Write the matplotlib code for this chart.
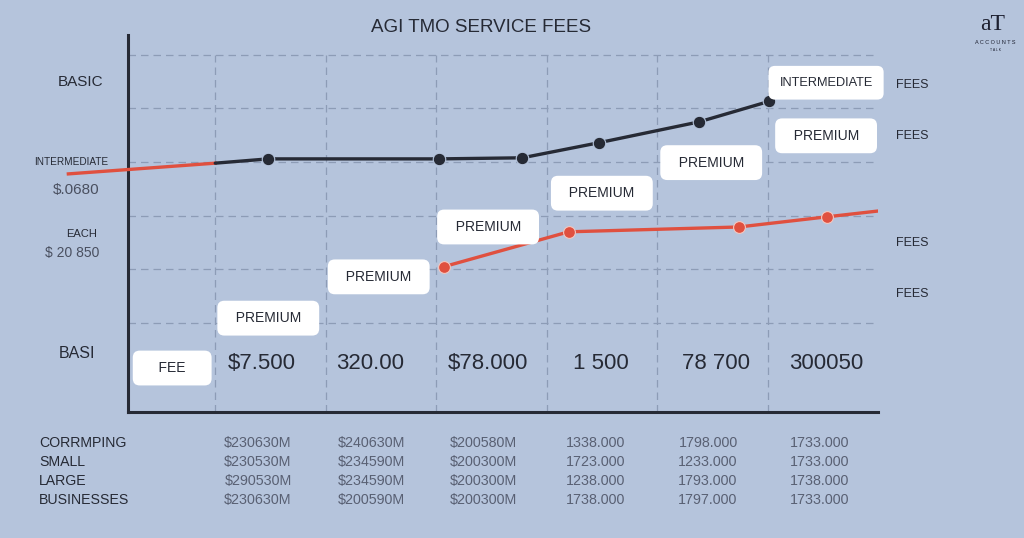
import numpy as np
import matplotlib.pyplot as plt

plt.rcParams['font.family'] = ['Liberation Sans', 'DejaVu Sans']

# data
dark_x = [1.0, 1.48, 3.03, 3.78, 4.47, 5.38, 6.01]
dark_y = [3.98, 4.06, 4.06, 4.08, 4.36, 4.75, 5.13]
dark_marked = [False, True, True, True, True, True, True]

red_tail_x = [-0.33, 1.0]
red_tail_y = [3.78, 3.98]

red_x = [3.07, 4.20, 5.74, 6.54, 7.01]
red_y = [2.05, 2.70, 2.79, 2.98, 3.09]
red_marked = [True, True, True, True, False]

box_labels = ['INTERMEDIATE', 'PREMIUM', 'PREMIUM', 'PREMIUM', 'PREMIUM', 'PREMIUM', 'PREMIUM', 'FEE']
box_x = [6.53, 6.53, 5.49, 4.50, 3.47, 2.48, 1.48, 0.61]
box_y = [5.48, 4.49, 3.99, 3.42, 2.79, 1.86, 1.09, 0.16]

big_labels = ['$7.500', '320.00', '$78.000', '1 500', '78 700', '300050']
big_x = [1.42, 2.40, 3.47, 4.49, 5.53, 6.53]

left_labels = ['BASIC', 'INTERMEDIATE', '$.0680', 'EACH', '$ 20 850', 'BASI']
right_labels = ['FEES', 'FEES', 'FEES', 'FEES']

row_names = ['CORRMPING', 'SMALL', 'LARGE', 'BUSINESSES']
table_cols = [
    ['$230630M', '$230530M', '$290530M', '$230630M'],
    ['$240630M', '$234590M', '$234590M', '$200590M'],
    ['$200580M', '$200300M', '$200300M', '$200300M'],
    ['1338.000', '1723.000', '1238.000', '1738.000'],
    ['1798.000', '1233.000', '1793.000', '1797.000'],
    ['1733.000', '1733.000', '1738.000', '1733.000'],
]

BG = '#b5c4dc'
INK = '#262a35'
RED = '#e0503f'
GRID = '#8d9cb6'

W, H = 1024, 538
fig = plt.figure(figsize=(W / 100, H / 100), dpi=100, facecolor=BG)


def fx(px):
    return px / W


def fy(py):
    return 1 - py / H


ax = fig.add_axes([fx(128), fy(412), 750 / W, 377 / H])
ax.set_facecolor(BG)
ax.set_xlim(0.21, 7.0)
ax.set_ylim(-0.66, 6.37)
ax.set_xticks([1, 2, 3, 4, 5, 6])
ax.set_yticks([1, 2, 3, 4, 5, 6])
ax.tick_params(length=0, labelbottom=False, labelleft=False)
ax.grid(True, axis='y', color=GRID, linestyle=(0, (6, 4)), linewidth=0.9)
ax.vlines(ax.get_xticks(), -0.66, 6, color=GRID, linestyle=(0, (6, 4)), linewidth=0.9, zorder=0.5)
for s in ['top', 'right']:
    ax.spines[s].set_visible(False)
for s in ['left', 'bottom']:
    ax.spines[s].set_color(INK)
    ax.spines[s].set_linewidth(2.2)

# lines
ax.plot(red_tail_x, red_tail_y, color=RED, lw=2.4, clip_on=False, zorder=3)
ax.plot(dark_x, dark_y, color=INK, lw=2.4, zorder=3, solid_capstyle='round')
ax.plot([x for x, m in zip(dark_x, dark_marked) if m],
        [y for y, m in zip(dark_y, dark_marked) if m],
        'o', color=INK, ms=9, mec=BG, mew=0.8, zorder=4)
ax.plot(red_x, red_y, color=RED, lw=2.4, zorder=3, solid_capstyle='round')
ax.plot([x for x, m in zip(red_x, red_marked) if m],
        [y for y, m in zip(red_y, red_marked) if m],
        'o', color=RED, ms=8.5, mec='#f3c7c0', mew=0.8, zorder=4)

# label boxes (padding spaces widen the white boxes)
for lab, x, y in zip(box_labels, box_x, box_y):
    pad = 0.75
    if lab == 'INTERMEDIATE':
        txt, fs, pad = lab, 9.2, 0.85
    elif lab == 'FEE':
        txt, fs = '    ' + lab + '    ', 10
    else:
        txt, fs = '  ' + lab + '  ', 10
    ax.text(x, y, txt, ha='center', va='center', fontsize=fs, color=INK, zorder=5,
            bbox=dict(boxstyle=f'round,pad={pad},rounding_size=0.5', fc='white', ec='none'))

# big numbers
for lab, x in zip(big_labels, big_x):
    ax.text(x, 0.25, lab, ha='center', va='center', fontsize=16, color=INK, zorder=5)

# title
fig.text(fx(481), fy(28), 'AGI TMO SERVICE FEES', ha='center', va='center',
         fontsize=13.5, color=INK)

# left labels
left_pos = [(103, 82, 11, INK), (108, 162, 7.2, INK), (99, 190, 11, '#4a5060'),
            (97, 234, 8, INK), (99, 253, 10, '#4a5060'), (95, 353, 11.5, INK)]
for lab, (px, py, fs, c) in zip(left_labels, left_pos):
    fig.text(fx(px), fy(py), lab, ha='right', va='center', fontsize=fs, color=c)

# right labels
for lab, py in zip(right_labels, [85, 136, 243, 294]):
    fig.text(fx(896), fy(py), lab, ha='left', va='center', fontsize=9, color=INK)

# bottom table
row_y = [443, 462, 481, 500]
for name, py in zip(row_names, row_y):
    fig.text(fx(39), fy(py), name, ha='left', va='center', fontsize=10.2, color=INK)
col_x = [258, 371, 483, 596, 708, 820]
for col, px in zip(table_cols, col_x):
    for val, py in zip(col, row_y):
        fig.text(fx(px), fy(py), val, ha='center', va='center', fontsize=10.3,
                 color='#596073')

# logo
fig.text(fx(993), fy(24), 'aT', ha='center', va='center', fontsize=17,
         family='Liberation Serif', color='#1d2030')
fig.text(fx(995), fy(43), 'A C C O U N T S', ha='center', va='center', fontsize=4,
         color='#1d2030')
fig.text(fx(995), fy(50), 'T A L K', ha='center', va='center', fontsize=2.5,
         color='#1d2030')

fig.savefig('out.png', dpi=100, facecolor=BG)
